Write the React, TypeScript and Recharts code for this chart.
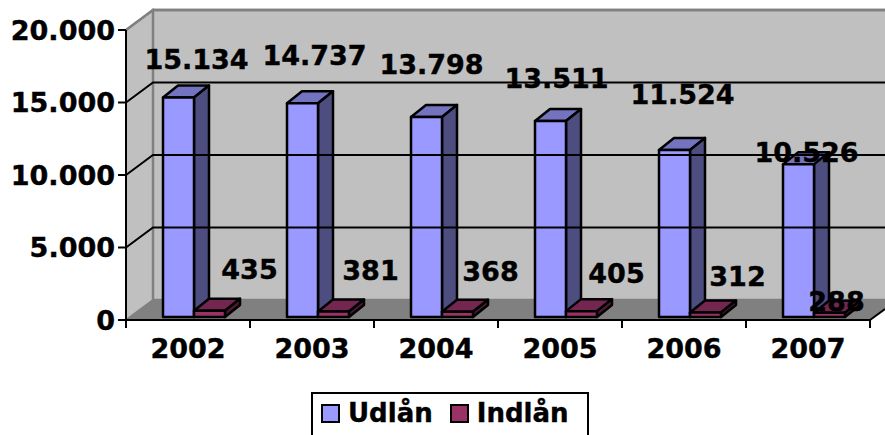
import { ComposedChart, Bar, XAxis, YAxis, Legend, LabelList, ReferenceArea, ReferenceLine } from 'recharts';

const years = ['2002', '2003', '2004', '2005', '2006', '2007'];
const udlan = [15134, 14737, 13798, 13511, 11524, 10526];
const indlan = [435, 381, 368, 405, 312, 288];
const gridValues = [5000, 10000, 15000, 20000];
const yTicks = [0, 5000, 10000, 15000, 20000];

// hand-placed label nudges from the bar top, the original has them scattered
const udlanNudge = [
  [18, -38], [12, -48], [5, -52], [6, -43], [8, -55], [8, -12],
];
const indlanNudge = [
  [40, -41], [37, -41], [33, -40], [35, -38], [32, -36], [7, -11],
];

const chartData = years.map((year, i) => ({ year, udlan: udlan[i], indlan: indlan[i] }));

const FONT = '"DejaVu Sans", Verdana, sans-serif';
const FONT_SIZE = 27;
const TEXT_STROKE = 0.4;

// depth of the fake 3D room and of the bars
const WALL_DX = 27;
const WALL_DY = -20;
const BAR_DX = 15;
const BAR_DY = -12;
const BAR_SHIFT_X = 6;
const BAR_SHIFT_Y = -3;

const fmt = (v: number) => String(v).replace(/\B(?=(\d{3})+$)/, '.');

const tickStyle = {
  fill: '#000',
  stroke: '#000',
  strokeWidth: TEXT_STROKE,
  fontFamily: FONT,
  fontSize: FONT_SIZE,
  fontWeight: 'bold',
};

const Room = ({ x, y, width, height }: any) => {
  const bottom = y + height;
  const right = x + width;
  const wallRight = right + 30;
  const ticks = [0, ...years.map((_, i) => i + 1)].map((i) => x + (i * width) / years.length);
  return (
    <g>
      <polygon
        points={`${x},${y} ${x + WALL_DX},${y + WALL_DY} ${x + WALL_DX},${bottom + WALL_DY} ${x},${bottom}`}
        fill="#C0C0C0"
        stroke="#808080"
        strokeWidth={2}
      />
      <rect x={x + WALL_DX} y={y + WALL_DY} width={wallRight - x - WALL_DX} height={height} fill="#C0C0C0" stroke="#808080" strokeWidth={2.5} />
      <polygon
        points={`${x},${bottom} ${x + WALL_DX},${bottom + WALL_DY} ${wallRight},${bottom + WALL_DY} ${wallRight},${bottom - 21} ${right},${bottom}`}
        fill="#808080"
      />
      <line x1={right} y1={bottom} x2={right + 15} y2={bottom - 11} stroke="#000" strokeWidth={2} />
      {ticks.map((t) => (
        <line key={t} x1={t} y1={bottom} x2={t} y2={bottom + 8} stroke="#000" strokeWidth={2} />
      ))}
    </g>
  );
};

const GridLine = ({ x1, y1, x2 }: any) => (
  <polyline
    points={`${x1},${y1} ${x1 + WALL_DX},${y1 + WALL_DY} ${x2 + 30},${y1 + WALL_DY}`}
    fill="none"
    stroke="#000"
    strokeWidth={2}
  />
);

const TopEdge = ({ x1, y1, x2 }: any) => (
  <polyline
    points={`${x1},${y1} ${x1 + WALL_DX},${y1 + WALL_DY} ${x2 + 30},${y1 + WALL_DY}`}
    fill="none"
    stroke="#808080"
    strokeWidth={2.5}
  />
);

const Block = ({ x, y, width, height, front, side, top }: any) => {
  const left = x + BAR_SHIFT_X;
  const t = y + BAR_SHIFT_Y;
  const r = left + width;
  const b = t + height;
  return (
    <g stroke="#000" strokeWidth={2.5} strokeLinejoin="round">
      <polygon points={`${left},${t} ${left + BAR_DX},${t + BAR_DY} ${r + BAR_DX},${t + BAR_DY} ${r},${t}`} fill={top} />
      <polygon points={`${r},${t} ${r + BAR_DX},${t + BAR_DY} ${r + BAR_DX},${b + BAR_DY} ${r},${b}`} fill={side} />
      <rect x={left} y={t} width={width} height={height} fill={front} />
    </g>
  );
};

const makeLabel = (nudge: number[][]) => (props: any) => {
  const { x, y, width, value, index } = props;
  const [dx, dy] = nudge[index];
  return (
    <text
      x={x + BAR_SHIFT_X + width / 2 + dx}
      y={y + BAR_SHIFT_Y + dy}
      textAnchor="middle"
      dominantBaseline="central"
      fontFamily={FONT}
      fontSize={FONT_SIZE}
      fontWeight="bold"
      fill="#000"
      stroke="#000"
      strokeWidth={TEXT_STROKE}
    >
      {fmt(value)}
    </text>
  );
};

// the box runs off the bottom of the picture in the original
const LegendBox = ({ payload }: any) => (
  <div
    style={{
      boxSizing: 'border-box',
      width: 278,
      height: 50,
      border: '2px solid #000',
      background: '#fff',
      display: 'flex',
      alignItems: 'flex-start',
      padding: '4px 0 0 8px',
      gap: 17,
      fontFamily: FONT,
      fontSize: 26,
      fontWeight: 'bold',
      color: '#000',
      WebkitTextStroke: `${TEXT_STROKE}px #000`,
    }}
  >
    {(payload || []).map((p: any) => (
      <span key={p.value} style={{ display: 'flex', alignItems: 'center', gap: 8 }}>
        <span style={{ boxSizing: 'border-box', width: 19, height: 19, background: p.color, border: '2px solid #000', WebkitTextStroke: 0 }} />
        {p.value}
      </span>
    ))}
  </div>
);

export default function App() {
  return (
    <div style={{ position: 'absolute', left: 0, top: 0, width: 885, height: 435, overflow: 'hidden' }}>
      <ComposedChart
        width={885}
        height={435}
        data={chartData}
        margin={{ top: 30, right: 15, left: 0, bottom: 35 }}
        barGap={0}
        barCategoryGap="25%"
      >
        <ReferenceArea y1={0} y2={20000} shape={<Room />} />
        {gridValues.map((v) => (
          <ReferenceLine key={v} y={v} shape={v === 20000 ? <TopEdge /> : <GridLine />} />
        ))}
        <XAxis
          dataKey="year"
          height={30}
          tickLine={false}
          axisLine={{ stroke: '#000', strokeWidth: 2 }}
          tick={tickStyle}
          tickMargin={13}
        />
        <YAxis
          width={126}
          domain={[0, 20000]}
          ticks={yTicks}
          tickFormatter={fmt}
          tickSize={8}
          tickMargin={3}
          interval={0}
          tickLine={{ stroke: '#000', strokeWidth: 2 }}
          axisLine={{ stroke: '#000', strokeWidth: 2 }}
          tick={tickStyle}
        />
        <Bar
          dataKey="udlan"
          name="Udlån"
          fill="#9999FF"
          isAnimationActive={false}
          shape={<Block front="#9999FF" side="#4D4D80" top="#7373BF" />}
        >
          <LabelList dataKey="udlan" content={makeLabel(udlanNudge)} />
        </Bar>
        <Bar
          dataKey="indlan"
          name="Indlån"
          fill="#993366"
          isAnimationActive={false}
          shape={<Block front="#993366" side="#4D1A33" top="#732650" />}
        >
          <LabelList dataKey="indlan" content={makeLabel(indlanNudge)} />
        </Bar>
        <Legend
          content={<LegendBox />}
          itemSorter={null as any}
          wrapperStyle={{ position: 'absolute', left: 311, top: 392, bottom: 'auto', width: 278 }}
        />
      </ComposedChart>
    </div>
  );
}
